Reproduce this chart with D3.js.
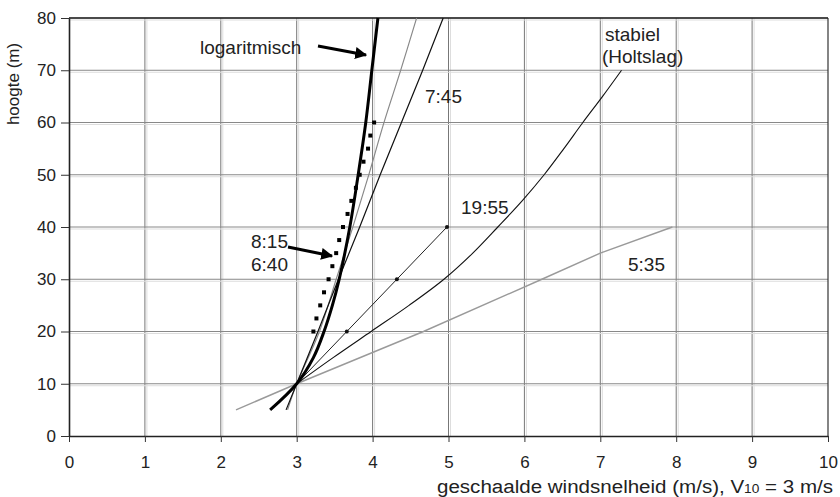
<!DOCTYPE html>
<html>
<head>
<meta charset="utf-8">
<script src="https://cdn.jsdelivr.net/npm/d3@7"></script>
<style>
  html, body { margin: 0; padding: 0; background: #fff; }
  svg { display: block; font-family: "Liberation Sans", Arial, sans-serif; }
</style>
</head>
<body>
<svg id="chart" width="840" height="497"></svg>
<script>
// Wind profiles: height (m) against scaled wind speed (m/s), V10 = 3 m/s
const xTicks = [0, 1, 2, 3, 4, 5, 6, 7, 8, 9, 10];
const yTicks = [0, 10, 20, 30, 40, 50, 60, 70, 80];

// logarithmic profile
const logHeight = [5, 10, 15, 20, 25, 30, 40, 50, 60, 70, 80];
const logSpeed  = [2.65, 3.0, 3.22, 3.36, 3.47, 3.56, 3.70, 3.81, 3.91, 3.99, 4.07];

// 8:15 (dotted)
const p815Height = [20, 22.5, 25, 27.5, 30, 32.5, 35, 37.5, 40, 42.5, 45, 47.5, 50, 52.5, 55, 57.5, 60];
const p815Speed  = [3.22, 3.26, 3.31, 3.36, 3.42, 3.47, 3.52, 3.56, 3.61, 3.67, 3.72, 3.78, 3.83, 3.88, 3.94, 3.97, 4.02];

// 6:40 (thin grey)
const p640Height = [5, 10, 20, 30, 40, 50, 60, 70, 80];
const p640Speed  = [2.88, 3.0, 3.3, 3.52, 3.74, 3.95, 4.15, 4.37, 4.58];

// 7:45
const p745Height = [5, 10, 20, 30, 40, 50, 60, 70, 80];
const p745Speed  = [2.86, 3.0, 3.28, 3.55, 3.83, 4.1, 4.38, 4.66, 4.93];

// 19:55
const p1955Height = [10, 20, 30, 40];
const p1955Speed  = [3.0, 3.66, 4.32, 4.98];

// stable profile (Holtslag)
const stableHeight = [10, 15, 20, 25, 30, 35, 40, 45, 50, 55, 60, 65, 70];
const stableSpeed  = [3.0, 3.48, 3.98, 4.48, 4.94, 5.32, 5.65, 5.97, 6.26, 6.52, 6.77, 7.03, 7.28];

// 5:35 (grey)
const p535Height = [5, 10, 20, 30, 35, 40];
const p535Speed  = [2.2, 3.0, 4.67, 6.23, 7.0, 7.95];

const svg = d3.select("#chart");
const m = { left: 69, right: 828, top: 18, bottom: 436 };

const x = d3.scaleLinear().domain([0, 10]).range([m.left, m.right]);
const y = d3.scaleLinear().domain([0, 80]).range([m.bottom, m.top]);

const pts = (hs, vs) => hs.map((h, i) => [vs[i], h]);
const straight = d3.line().x(d => x(d[0])).y(d => y(d[1]));
const smooth = d3.line().x(d => x(d[0])).y(d => y(d[1])).curve(d3.curveCatmullRom);

// grid (slightly doubled, as printed)
const grid = svg.append("g");
xTicks.slice(1, -1).forEach(t => {
  grid.append("line").attr("x1", x(t) + 2).attr("x2", x(t) + 2)
    .attr("y1", m.top).attr("y2", m.bottom).attr("stroke", "#ddd").attr("stroke-width", 1);
  grid.append("line").attr("x1", x(t)).attr("x2", x(t))
    .attr("y1", m.top).attr("y2", m.bottom).attr("stroke", "#777").attr("stroke-width", 1);
});
yTicks.slice(1).forEach(t => {
  grid.append("line").attr("x1", m.left).attr("x2", m.right)
    .attr("y1", y(t) + 2).attr("y2", y(t) + 2).attr("stroke", "#ddd").attr("stroke-width", 1);
  grid.append("line").attr("x1", m.left).attr("x2", m.right)
    .attr("y1", y(t)).attr("y2", y(t)).attr("stroke", "#888").attr("stroke-width", 1);
});
// right border
svg.append("line").attr("x1", m.right).attr("x2", m.right)
  .attr("y1", m.top).attr("y2", m.bottom).attr("stroke", "#333").attr("stroke-width", 1.2);
// top border
svg.append("line").attr("x1", m.left).attr("x2", m.right)
  .attr("y1", m.top).attr("y2", m.top).attr("stroke", "#222").attr("stroke-width", 1.5);

// axes
const xAxis = svg.append("g").attr("transform", `translate(0,${m.bottom})`)
  .call(d3.axisBottom(x).tickValues(xTicks).tickSizeInner(6).tickSizeOuter(0).tickPadding(14));
const yAxis = svg.append("g").attr("transform", `translate(${m.left},0)`)
  .call(d3.axisLeft(y).tickValues(yTicks).tickSizeInner(8).tickSizeOuter(0).tickPadding(5));
[xAxis, yAxis].forEach(a => {
  a.select(".domain").attr("stroke", "#222").attr("stroke-width", 1.6);
  a.selectAll(".tick line").attr("stroke", "#333");
  a.selectAll("text").attr("font-family", "Liberation Sans, Arial, sans-serif")
    .attr("font-size", 17).attr("fill", "#222");
});

// profiles
const plot = svg.append("g");
plot.append("path").datum(pts(p535Height, p535Speed)).attr("d", straight)
  .attr("fill", "none").attr("stroke", "#9a9a9a").attr("stroke-width", 1.4);
plot.append("path").datum(pts(p640Height, p640Speed)).attr("d", smooth)
  .attr("fill", "none").attr("stroke", "#888").attr("stroke-width", 1.1);
plot.append("path").datum(pts(p745Height, p745Speed)).attr("d", straight)
  .attr("fill", "none").attr("stroke", "#111").attr("stroke-width", 1.2);
plot.append("path").datum(pts(p1955Height, p1955Speed)).attr("d", straight)
  .attr("fill", "none").attr("stroke", "#222").attr("stroke-width", 1);
plot.selectAll(".m1955").data(pts(p1955Height, p1955Speed).slice(1)).join("circle")
  .attr("cx", d => x(d[0])).attr("cy", d => y(d[1])).attr("r", 2).attr("fill", "#111");
plot.append("path").datum(pts(stableHeight, stableSpeed)).attr("d", smooth)
  .attr("fill", "none").attr("stroke", "#111").attr("stroke-width", 1.1);
plot.append("path").datum(pts(logHeight, logSpeed)).attr("d", smooth)
  .attr("fill", "none").attr("stroke", "#000").attr("stroke-width", 3);
plot.selectAll(".m815").data(pts(p815Height, p815Speed)).join("rect")
  .attr("x", d => x(d[0]) - 2).attr("y", d => y(d[1]) - 2)
  .attr("width", 4).attr("height", 4).attr("fill", "#000");

// annotations
const defs = svg.append("defs");
defs.append("marker").attr("id", "head").attr("viewBox", "0 0 10 10")
  .attr("refX", 9).attr("refY", 5).attr("markerWidth", 4).attr("markerHeight", 4)
  .attr("orient", "auto").attr("markerUnits", "strokeWidth")
  .append("path").attr("d", "M0,0 L10,5 L0,10 Z").attr("fill", "#000");

const ann = svg.append("g").attr("font-size", 19).attr("fill", "#222");
const label = (t, px, py) => ann.append("text").attr("x", px).attr("y", py).text(t);
label("logaritmisch", 200, 54);
label("7:45", 425, 103);
label("stabiel", 605, 41);
label("(Holtslag)", 602, 63);
label("19:55", 461, 214);
label("8:15", 251, 248);
label("6:40", 251, 271);
label("5:35", 628, 271);

ann.append("line").attr("x1", 318).attr("y1", 46).attr("x2", 366).attr("y2", 55)
  .attr("stroke", "#000").attr("stroke-width", 3).attr("marker-end", "url(#head)");
ann.append("line").attr("x1", 288).attr("y1", 247).attr("x2", 332).attr("y2", 256)
  .attr("stroke", "#000").attr("stroke-width", 3).attr("marker-end", "url(#head)");

// axis titles
const xt = svg.append("text").attr("x", 437).attr("y", 493)
  .attr("font-size", 18).attr("fill", "#222")
  .attr("textLength", 396).attr("lengthAdjust", "spacingAndGlyphs");
xt.append("tspan").text("geschaalde windsnelheid (m/s), V");
xt.append("tspan").attr("font-size", 12).text("10");
xt.append("tspan").text(" = 3 m/s");

svg.append("text").attr("transform", "translate(19,84) rotate(-90)")
  .attr("text-anchor", "middle").attr("font-size", 17).attr("fill", "#222")
  .text("hoogte (m)");
</script>
</body>
</html>
